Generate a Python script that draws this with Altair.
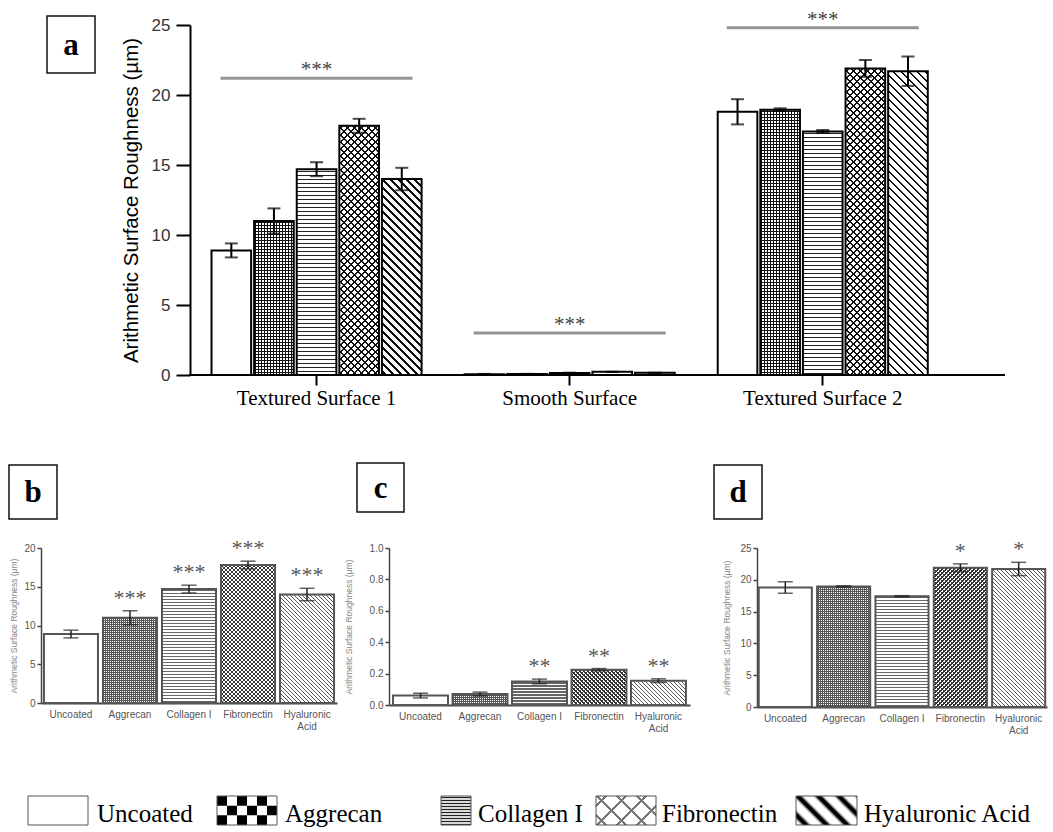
import altair as alt
import pandas as pd

# ---------------- data ----------------
SERIES = ["Uncoated", "Aggrecan", "Collagen I", "Fibronectin", "Hyaluronic Acid"]
SURFACES = ["Textured Surface 1", "Smooth Surface", "Textured Surface 2"]

TEXTURED1_MEAN = [8.9, 11.0, 14.7, 17.8, 14.0]
TEXTURED1_SEM = [0.5, 0.9, 0.5, 0.5, 0.8]
SMOOTH_MEAN = [0.06, 0.07, 0.15, 0.225, 0.155]
SMOOTH_SEM = [0.015, 0.012, 0.015, 0.007, 0.012]
TEXTURED2_MEAN = [18.8, 18.95, 17.4, 21.9, 21.7]
TEXTURED2_SEM = [0.9, 0.1, 0.1, 0.6, 1.05]

SURFACE_SIG_LEVEL = [21.2, 3.0, 24.8]
SURFACE_SIG_TEXT = ["***", "***", "***"]
SIG_TEXTURED1 = ["", "***", "***", "***", "***"]
SIG_SMOOTH = ["", "", "**", "**", "**"]
SIG_TEXTURED2 = ["", "", "", "*", "*"]

# ---------------- layout (page pixels) ----------------
SERIF = "Liberation Serif"
SANS = "Liberation Sans"
CLEAR = "rgba(255,255,255,0)"
ONE = pd.DataFrame({"k": [0]})

# every row of the figure shares the same view origin (x = 41)
ORIGIN_X = 41
GEOM_A = dict(left=ORIGIN_X, top=25, width=1005 - ORIGIN_X, height=350, ymax=25, axis=190)
GEOM_B = dict(left=41, top=548, width=296, height=155, ymax=20)
GEOM_C = dict(left=389, top=548, width=301, height=157, ymax=1.0)
GEOM_D = dict(left=757, top=548, width=290, height=159, ymax=25)
GEOM_L = dict(left=ORIGIN_X, top=760, width=1053 - ORIGIN_X, height=72)

CELL_A = (0, 0, 1053, 430)
CELL_B = (0, 430, 340, 760)
CELL_C = (340, 430, 700, 760)
CELL_D = (700, 430, 1053, 760)
CELL_L = (0, 760, 1053, 832)

BOX_A = (47, 16, 95, 73)
BOX_B = (9, 465, 57, 519)
BOX_C = (357, 463, 404, 512)
BOX_D = (714, 465, 762, 519)

# fill patterns: (direction, period px, thickness px, colour)
PATTERNS_LARGE = {
    "Aggrecan": [("h", 3, 1.3, "#111"), ("v", 3, 1.3, "#111")],
    "Collagen I": [("h", 4, 1.3, "#222")],
    "Fibronectin": [("fwd", 7, 2, "#111"), ("back", 7, 2, "#111")],
    "Hyaluronic Acid": [("back", 8, 2.2, "#111")],
}
PATTERNS_SMALL = {
    "Aggrecan": [("h", 2, 1, "#555"), ("v", 2, 1, "#555")],
    "Collagen I": [("h", 3, 1.2, "#666")],
    "Fibronectin": [("fwd", 4, 1.4, "#333"), ("back", 4, 1.4, "#333")],
    "Hyaluronic Acid": [("back", 4, 1.4, "#555")],
}


def band_size(extent, n, inner, outer):
    step = extent / (n - inner + 2 * outer)
    return step * (1 - inner)


def stripes(direction, period, thick, color, w, h, soft=0.0, phase=None):
    """Linear gradient that paints evenly spaced stripes over a w x h box."""
    w = max(w, 1.0)
    h = max(h, 1.0)
    if direction == "h":
        span, coords = h, dict(x1=0, y1=0, x2=0, y2=1)
    elif direction == "v":
        span, coords = w, dict(x1=0, y1=0, x2=1, y2=0)
    else:
        span = w + h
        k = (w + h) / (w * w + h * h)
        if direction == "back":
            coords = dict(x1=0, y1=1, x2=k * w, y2=1 - k * h)
        else:
            coords = dict(x1=0, y1=0, x2=k * w, y2=k * h)
    pos = (period - thick) / 2 if phase is None else phase
    pts = []
    while pos < span:
        a, b = pos, pos + thick
        pts += [(a - soft, CLEAR), (a + soft, color), (b - soft, color), (b + soft, CLEAR)]
        pos += period
    stops, last = [], 0.0
    for o, c in pts:
        o = min(max(o / span, last), 1.0)
        stops.append(alt.GradientStop(offset=round(o, 5), color=c))
        last = o
    return alt.LinearGradient(gradient="linear", stops=stops, **coords)


def cell_frame(geom, cell):
    x1, y1, x2, y2 = cell
    return alt.Chart(ONE).mark_rect(opacity=0).encode(
        x=alt.value(x1 - geom["left"]), x2=alt.value(x2 - geom["left"]),
        y=alt.value(y1 - geom["top"]), y2=alt.value(y2 - geom["top"]))


def label_box(geom, box, letter):
    x1, y1, x2, y2 = box
    L, T = geom["left"], geom["top"]
    rect = alt.Chart(ONE).mark_rect(fill="white", stroke="#111", strokeWidth=1.5).encode(
        x=alt.value(x1 - L), x2=alt.value(x2 - L), y=alt.value(y1 - T), y2=alt.value(y2 - T))
    txt = alt.Chart(ONE).mark_text(text=letter, font=SERIF, fontSize=31, fontWeight="bold",
                                   align="center", baseline="middle", color="black").encode(
        x=alt.value((x1 + x2) / 2 - L), y=alt.value((y1 + y2) / 2 - T + 1))
    return [rect, txt]


def bar_layers(df, enc, patterns, bar_w, px_per_unit, outline, outline_w):
    layers = [alt.Chart(df).mark_bar(fill="white").encode(**enc)]
    for _, r in df.iterrows():
        h = r["mean"] * px_per_unit
        if h < 4:
            continue
        for d, p, t, c in patterns.get(r["series"], []):
            grad = stripes(d, p, t, c, bar_w, h)
            layers.append(alt.Chart(df).transform_filter(alt.datum.key == r["key"])
                          .mark_bar(fill=grad).encode(**enc))
    layers.append(alt.Chart(df).mark_bar(fillOpacity=0, stroke=outline, strokeWidth=outline_w)
                  .encode(**enc))
    return layers


def error_layers(df, x_enc, y_fn, extra, color, width, cap):
    rule = alt.Chart(df).mark_rule(color=color, strokeWidth=width).encode(
        x=x_enc, y=y_fn("lo"), y2="hi", **extra)
    lo = alt.Chart(df).mark_tick(color=color, thickness=width, size=cap, orient="horizontal").encode(
        x=x_enc, y=y_fn("lo"), **extra)
    hi = alt.Chart(df).mark_tick(color=color, thickness=width, size=cap, orient="horizontal").encode(
        x=x_enc, y=y_fn("hi"), **extra)
    return [rule, lo, hi]


# ---------------- panel a: all surfaces ----------------
rows = []
for s_i, (surf, means, sems) in enumerate(zip(
        SURFACES, [TEXTURED1_MEAN, SMOOTH_MEAN, TEXTURED2_MEAN],
        [TEXTURED1_SEM, SMOOTH_SEM, TEXTURED2_SEM])):
    for i, ser in enumerate(SERIES):
        rows.append(dict(surface=surf, series=ser, mean=means[i], sem=sems[i], key=f"{s_i}-{i}"))
df_a = pd.DataFrame(rows)
df_a["lo"] = df_a["mean"] - df_a["sem"]
df_a["hi"] = df_a["mean"] + df_a["sem"]
df_sig_a = pd.DataFrame({"surface": SURFACES, "level": SURFACE_SIG_LEVEL, "text": SURFACE_SIG_TEXT})

# the data area starts at the y axis (x = 190); the groups fill it with a ~253 px step
axis_shift = GEOM_A["axis"] - GEOM_A["left"]
GROUP_STEP = 253.1
GROUP_PAD = (GEOM_A["width"] / GROUP_STEP - 3) / 2
GROUP_ALIGN = axis_shift / (GEOM_A["width"] - 3 * GROUP_STEP)
OFF_INNER, OFF_OUTER = 0.07, 0.505
bar_w_a = band_size(GROUP_STEP, 5, OFF_INNER, OFF_OUTER)
px_a = GEOM_A["height"] / GEOM_A["ymax"]

x_a = alt.X("surface:N", sort=SURFACES,
            scale=alt.Scale(domain=SURFACES, paddingInner=0, paddingOuter=GROUP_PAD, align=GROUP_ALIGN),
            axis=alt.Axis(title=None, labelFont=SERIF, labelFontSize=21, labelColor="black",
                          labelPadding=2, labelAngle=0, tickSize=10, tickWidth=2, tickColor="black",
                          domain=False, grid=False))
xo_a = alt.XOffset("series:N", sort=SERIES,
                   scale=alt.Scale(domain=SERIES, paddingInner=OFF_INNER, paddingOuter=OFF_OUTER))
axis_y_a = alt.Axis(title="Arithmetic Surface Roughness (µm)", titleFont=SANS, titleFontSize=20.5,
                    titleFontWeight="normal", titleColor="black", titlePadding=10,
                    labelFont=SANS, labelFontSize=17, labelColor="#333", labelPadding=6,
                    values=[0, 5, 10, 15, 20, 25], tickSize=14, tickWidth=2, tickColor="black",
                    domainColor="black", domainWidth=2, grid=False, offset=-axis_shift)
scale_y_a = alt.Scale(domain=[0, GEOM_A["ymax"]], nice=False)


def y_a(field):
    return alt.Y(f"{field}:Q", scale=scale_y_a, axis=axis_y_a)


enc_a = dict(x=x_a, xOffset=xo_a, y=y_a("mean"))
layers_a = [cell_frame(GEOM_A, CELL_A)] + label_box(GEOM_A, BOX_A, "a")
layers_a += bar_layers(df_a, enc_a, PATTERNS_LARGE, bar_w_a, px_a, "black", 2)
layers_a += error_layers(df_a, x_a, y_a, dict(xOffset=xo_a), "black", 2, 13)
layers_a += [
    # x axis line, from the y axis to the right end of the data area
    alt.Chart(ONE).mark_rule(color="black", strokeWidth=2).encode(
        x=alt.value(axis_shift - 1), x2=alt.value(GEOM_A["width"]), y=alt.value(GEOM_A["height"])),
    alt.Chart(df_sig_a).mark_tick(color="#666", thickness=3, size=192, orient="horizontal").encode(
        x=x_a, y=y_a("level")),
    alt.Chart(df_sig_a).mark_text(font=SERIF, fontSize=21, color="#444", baseline="alphabetic",
                                  dy=-2).encode(x=x_a, y=y_a("level"), text="text:N"),
]
panel_a = alt.layer(*layers_a).properties(width=GEOM_A["width"], height=GEOM_A["height"])


# ---------------- panels b, c, d: one surface each ----------------
def small_panel(means, sems, sig, geom, cell, box, letter, pads, y_values, y_format, title_pad):
    df = pd.DataFrame({"series": SERIES, "mean": means, "sem": sems, "sig": sig,
                       "key": [f"s{i}" for i in range(len(SERIES))]})
    df["lo"] = df["mean"] - df["sem"]
    df["hi"] = df["mean"] + df["sem"]
    inner, outer = pads
    bw = band_size(geom["width"], 5, inner, outer)
    px = geom["height"] / geom["ymax"]
    x_enc = alt.X("series:N", sort=SERIES,
                  scale=alt.Scale(domain=SERIES, paddingInner=inner, paddingOuter=outer),
                  axis=alt.Axis(title=None, labelFont=SANS, labelFontSize=10, labelColor="#555",
                                labelPadding=6, labelAngle=0, ticks=False, domainColor="#444",
                                domainWidth=2, grid=False,
                                labelExpr="datum.label == 'Hyaluronic Acid' ? ['Hyaluronic', 'Acid'] : datum.label"))
    axis_y = alt.Axis(title="Arithmetic Surface Roughness (µm)", titleFont=SANS, titleFontSize=8.5,
                      titleFontWeight="normal", titleColor="#888", titlePadding=title_pad,
                      labelFont=SANS, labelFontSize=10, labelColor="#555", labelPadding=2,
                      values=y_values, format=y_format, tickSize=4, tickWidth=1.5, tickColor="#444",
                      domainColor="#444", domainWidth=1.5, grid=False)
    scale_y = alt.Scale(domain=[0, geom["ymax"]], nice=False)

    def y_fn(field):
        return alt.Y(f"{field}:Q", scale=scale_y, axis=axis_y)

    enc = dict(x=x_enc, y=y_fn("mean"))
    layers = [cell_frame(geom, cell)] + label_box(geom, box, letter)
    layers += bar_layers(df, enc, PATTERNS_SMALL, bw, px, "#555", 2)
    layers += error_layers(df, x_enc, y_fn, {}, "#222", 1.5, 15)
    layers.append(alt.Chart(df).mark_text(font=SERIF, fontSize=22, color="#555",
                                          baseline="alphabetic", dy=-6).encode(
        x=x_enc, y=y_fn("hi"), text="sig:N"))
    return alt.layer(*layers).properties(width=geom["width"], height=geom["height"])


panel_b = small_panel(TEXTURED1_MEAN, TEXTURED1_SEM, SIG_TEXTURED1, GEOM_B, CELL_B, BOX_B, "b",
                      (0.085, 0.05), [0, 5, 10, 15, 20], "d", 5)
panel_c = small_panel(SMOOTH_MEAN, SMOOTH_SEM, SIG_SMOOTH, GEOM_C, CELL_C, BOX_C, "c",
                      (0.076, 0.068), [0, 0.2, 0.4, 0.6, 0.8, 1.0], ".1f", 16)
panel_d = small_panel(TEXTURED2_MEAN, TEXTURED2_SEM, SIG_TEXTURED2, GEOM_D, CELL_D, BOX_D, "d",
                      (0.09, 0.03), [0, 5, 10, 15, 20, 25], "d", 8)

# ---------------- legend ----------------
LEG_SWATCH_X = [(28, 88), (217, 277), (441, 471), (596, 656), (796, 857)]
LEG_TEXT_X = [97, 285, 478, 662, 864]
LEG_Y = (796, 825)
LEG_BASELINE = 822


def legend_chart():
    L, T = GEOM_L["left"], GEOM_L["top"]
    y1, y2 = LEG_Y[0] - T, LEG_Y[1] - T
    sw_h = y2 - y1

    def rect(xa, xb, ya, yb, **mark):
        return alt.Chart(ONE).mark_rect(**mark).encode(
            x=alt.value(xa - L), x2=alt.value(xb - L), y=alt.value(ya), y2=alt.value(yb))

    layers = [cell_frame(GEOM_L, CELL_L)]
    fills = ["white", "white", "#d8d8d8", "white", "white"]
    for (xa, xb), f in zip(LEG_SWATCH_X, fills):
        layers.append(rect(xa, xb, y1, y2, fill=f))
    # Aggrecan: checkerboard, three rows of alternating cells
    xa, xb = LEG_SWATCH_X[1]
    row_h = sw_h / 3
    for r in range(3):
        g = stripes("v", 20, 10, "black", xb - xa, row_h, phase=0 if r % 2 == 0 else 10)
        layers.append(rect(xa, xb, y1 + r * row_h, y1 + (r + 1) * row_h, fill=g))
    # Collagen I: fine horizontal lines
    xa, xb = LEG_SWATCH_X[2]
    layers.append(rect(xa, xb, y1, y2, fill=stripes("h", 3, 1.4, "#222", xb - xa, sw_h)))
    # Fibronectin: light diamond lattice
    xa, xb = LEG_SWATCH_X[3]
    for d in ("fwd", "back"):
        layers.append(rect(xa, xb, y1, y2, fill=stripes(d, 20, 2.2, "#777", xb - xa, sw_h)))
    # Hyaluronic acid: broad soft diagonal bands
    xa, xb = LEG_SWATCH_X[4]
    layers.append(rect(xa, xb, y1, y2, fill=stripes("back", 20.5, 9, "black", xb - xa, sw_h, soft=2.5)))
    for xa, xb in LEG_SWATCH_X:
        layers.append(rect(xa, xb, y1, y2, fillOpacity=0, stroke="#555", strokeWidth=1))
    for name, tx in zip(SERIES, LEG_TEXT_X):
        layers.append(alt.Chart(ONE).mark_text(text=name, font=SERIF, fontSize=25, color="black",
                                               align="left", baseline="alphabetic").encode(
            x=alt.value(tx - L), y=alt.value(LEG_BASELINE - T)))
    return alt.layer(*layers).properties(width=GEOM_L["width"], height=GEOM_L["height"])


bottom_row = alt.hconcat(panel_b, panel_c, panel_d, spacing=0)
chart = alt.vconcat(panel_a, bottom_row, legend_chart(), spacing=0).properties(
    padding=0
).configure_view(strokeWidth=0)

chart.save("out.html", embed_options={"renderer": "svg", "actions": False})
